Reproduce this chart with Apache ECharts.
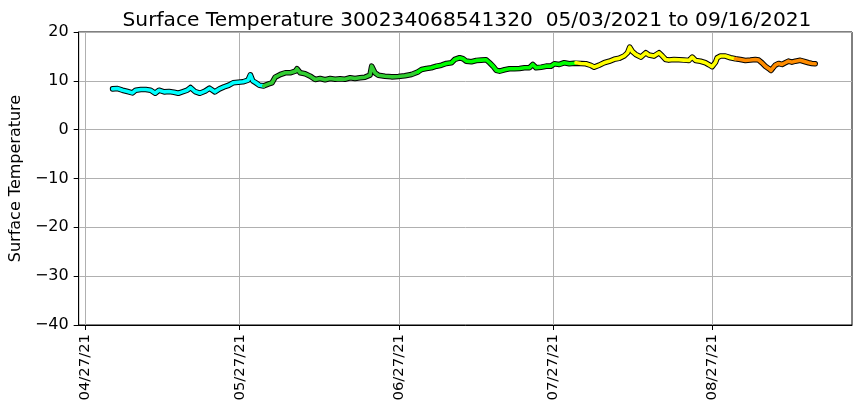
<!DOCTYPE html>
<html>
<head>
<meta charset="utf-8">
<script src="https://cdn.jsdelivr.net/npm/echarts@6/dist/echarts.min.js"></script>
<style>html,body{margin:0;padding:0;background:#fff}#c{width:860px;height:408px}</style>
</head>
<body>
<div id="c"></div>
<script>
const chartTitle = 'Surface Temperature 300234068541320  05/03/2021 to 09/16/2021';
const yName = 'Surface Temperature';
const xTicks = ['2021-04-27', '2021-05-27', '2021-06-27', '2021-07-27', '2021-08-27'];
const xRange = ['2021-04-25 15:24', '2021-09-23 06:00'];
const yRange = [-40, 20];
const yStep = 10;

const times = [
'2021-05-02 06:00','2021-05-03 05:00','2021-05-04 04:00','2021-05-05 04:00','2021-05-06 03:00','2021-05-06 18:00',
'2021-05-07 18:00','2021-05-08 17:00','2021-05-09 16:00','2021-05-10 13:00','2021-05-11 07:00','2021-05-12 07:00',
'2021-05-13 06:00','2021-05-14 05:00','2021-05-15 01:00','2021-05-15 20:00','2021-05-16 19:00','2021-05-17 10:00',
'2021-05-18 07:00','2021-05-19 06:00','2021-05-20 06:00','2021-05-21 03:00','2021-05-22 04:00','2021-05-23 02:00',
'2021-05-23 23:00','2021-05-24 21:00','2021-05-25 17:00','2021-05-26 17:00','2021-05-27 16:00','2021-05-28 15:00',
'2021-05-29 02:00','2021-05-29 13:00','2021-05-30 04:00','2021-05-30 20:00','2021-05-31 16:00','2021-06-01 16:00',
'2021-06-02 07:00','2021-06-02 22:00','2021-06-03 22:00','2021-06-04 21:00','2021-06-05 20:00','2021-06-06 20:00',
'2021-06-07 04:00','2021-06-07 19:00','2021-06-08 18:00','2021-06-09 18:00','2021-06-10 17:00','2021-06-11 16:00',
'2021-06-12 15:00','2021-06-13 15:00','2021-06-14 14:00','2021-06-15 13:00','2021-06-16 12:00','2021-06-17 12:00',
'2021-06-18 11:00','2021-06-19 10:00','2021-06-20 10:00','2021-06-21 09:00','2021-06-21 17:00','2021-06-22 01:00',
'2021-06-22 08:00','2021-06-23 00:00','2021-06-24 07:00','2021-06-25 14:00','2021-06-26 21:00','2021-06-28 04:00',
'2021-06-29 11:00','2021-06-30 18:00','2021-07-01 10:00','2021-07-02 09:00','2021-07-03 08:00','2021-07-04 08:00',
'2021-07-05 07:00','2021-07-06 06:00','2021-07-07 06:00','2021-07-07 21:00','2021-07-08 20:00','2021-07-09 12:00',
'2021-07-10 03:00','2021-07-11 03:00','2021-07-12 02:00','2021-07-13 01:00','2021-07-14 00:00','2021-07-14 16:00',
'2021-07-15 08:00','2021-07-15 23:00','2021-07-16 15:00','2021-07-17 14:00','2021-07-18 13:00','2021-07-19 12:00',
'2021-07-20 12:00','2021-07-21 11:00','2021-07-22 10:00','2021-07-23 02:00','2021-07-23 17:00','2021-07-24 17:00',
'2021-07-25 16:00','2021-07-26 15:00','2021-07-27 07:00','2021-07-28 06:00','2021-07-29 05:00','2021-07-30 05:00',
'2021-07-31 04:00','2021-07-31 12:00','2021-08-01 11:00','2021-08-02 10:00','2021-08-03 10:00','2021-08-04 01:00',
'2021-08-05 00:00','2021-08-05 23:00','2021-08-06 23:00','2021-08-07 22:00','2021-08-08 21:00','2021-08-09 21:00',
'2021-08-10 13:00','2021-08-10 23:00','2021-08-11 12:00','2021-08-12 03:00','2021-08-13 03:00','2021-08-14 02:00',
'2021-08-14 17:00','2021-08-15 16:00','2021-08-16 16:00','2021-08-17 08:00','2021-08-17 23:00','2021-08-18 14:00',
'2021-08-19 14:00','2021-08-20 13:00','2021-08-21 12:00','2021-08-22 12:00','2021-08-23 03:00','2021-08-23 19:00',
'2021-08-24 18:00','2021-08-25 17:00','2021-08-26 09:00','2021-08-27 00:00','2021-08-27 08:00','2021-08-27 16:00',
'2021-08-28 00:00','2021-08-28 15:00','2021-08-29 14:00','2021-08-30 14:00','2021-08-31 13:00','2021-09-01 12:00',
'2021-09-02 12:00','2021-09-03 11:00','2021-09-04 10:00','2021-09-05 02:00','2021-09-05 17:00','2021-09-06 09:00',
'2021-09-07 00:00','2021-09-07 11:00','2021-09-07 21:00','2021-09-08 07:00','2021-09-08 23:00','2021-09-09 15:00',
'2021-09-10 06:00','2021-09-10 21:00','2021-09-11 13:00','2021-09-12 05:00','2021-09-13 04:00','2021-09-14 03:00',
'2021-09-14 19:00','2021-09-15 10:00','2021-09-16 02:00'
];
const temps = [
8.36,8.42,8.08,7.81,7.53,8.08,
8.22,8.22,8.08,7.46,8.08,7.74,
7.81,7.67,7.46,7.74,8.08,8.63,
7.81,7.46,7.88,8.49,7.74,8.36,
8.77,9.10,9.59,9.72,9.80,10.13,
11.23,10.00,9.59,9.10,8.97,9.38,
9.59,10.75,11.30,11.64,11.64,11.98,
12.47,11.64,11.44,10.95,10.27,10.48,
10.21,10.48,10.34,10.41,10.34,10.62,
10.48,10.62,10.75,11.16,13.00,12.68,
11.64,11.16,10.95,10.82,10.89,11.03,
11.30,11.85,12.33,12.53,12.68,13.01,
13.21,13.56,13.70,14.38,14.73,14.52,
14.03,13.91,14.18,14.24,14.32,13.70,
13.01,12.18,11.98,12.27,12.47,12.47,
12.53,12.68,12.68,13.36,12.68,12.80,
13.01,13.01,13.50,13.36,13.70,13.50,
13.60,13.70,13.56,13.50,13.15,12.80,
13.20,13.70,14.00,14.40,14.60,15.10,
15.75,16.90,15.96,15.40,14.86,15.75,
15.27,15.07,15.75,15.07,14.38,14.25,
14.38,14.31,14.25,14.18,14.86,14.18,
14.00,13.70,13.30,12.90,13.20,13.80,
14.73,15.07,15.07,14.73,14.52,14.38,
14.18,14.25,14.38,14.25,13.70,13.00,
12.53,12.12,12.68,13.20,13.56,13.36,
13.70,14.03,13.83,14.03,14.20,13.90,
13.70,13.56,13.50
];
const colorBreaks = ['2021-05-31 04:00', '2021-06-30 12:00', '2021-07-31 08:00', '2021-08-31 02:00'];
const segColors = ['#00ffff', '#32cd32', '#00ff00', '#ffff00', '#ff8c00'];

const P = s => echarts.time.parse(s).getTime();
const breakTs = colorBreaks.map(P);
const pts = times.map((t, i) => [P(t), temps[i]]);
const segs = segColors.map(() => []);
pts.forEach(p => {
  let k = 0;
  while (k < breakTs.length && p[0] >= breakTs[k]) k++;
  segs[k].push(p);
});
for (let k = 0; k < segs.length - 1; k++) {
  if (segs[k + 1].length) segs[k].push(segs[k + 1][0]);
}
const pad2 = n => (n < 10 ? '0' : '') + n;
const fmtDate = v => { const d = new Date(v); return pad2(d.getMonth() + 1) + '/' + pad2(d.getDate()) + '/' + pad2(d.getFullYear() % 100); };
const font = 'DejaVu Sans';
const tickVals = xTicks.map(P);

const series = [{
  type: 'line', data: pts, showSymbol: false, symbol: 'none', silent: true, z: 2,
  lineStyle: { color: '#000', width: 5.6, cap: 'round', join: 'round' }
}].concat(segs.map((s, k) => ({
  type: 'line', data: s, showSymbol: false, symbol: 'none', silent: true, z: 3,
  lineStyle: { color: segColors[k], width: 3.6, cap: 'round', join: 'round' }
})));

const chart = echarts.init(document.getElementById('c'), null, { renderer: 'canvas' });
chart.setOption({
  animation: false,
  backgroundColor: '#fff',
  title: {
    text: chartTitle, left: 462, top: 6, textAlign: 'center',
    textStyle: { fontFamily: font, fontSize: 20.2, fontWeight: 'normal', color: '#000' }
  },
  grid: { left: 76, right: 8, top: 32, bottom: 83, show: true, borderColor: '#000', borderWidth: 1, backgroundColor: 'transparent' },
  xAxis: {
    type: 'value', min: P(xRange[0]), max: P(xRange[1]),
    axisLine: { show: true, onZero: false, lineStyle: { color: '#000', width: 1 } },
    axisTick: { show: true, length: 5, lineStyle: { color: '#000' }, customValues: tickVals },
    axisLabel: { rotate: 90, margin: 9, fontFamily: font, fontSize: 14.8, color: '#000', customValues: tickVals, formatter: v => fmtDate(v) },
    splitLine: { show: true, lineStyle: { color: '#b0b0b0', width: 1 } }
  },
  yAxis: {
    type: 'value', min: yRange[0], max: yRange[1], interval: yStep,
    name: yName, nameLocation: 'middle', nameGap: 52, nameRotate: 90,
    nameTextStyle: { fontFamily: font, fontSize: 16, color: '#000' },
    axisLine: { show: true, onZero: false, lineStyle: { color: '#000', width: 1 } },
    axisTick: { show: true, length: 5, lineStyle: { color: '#000' } },
    axisLabel: { margin: 10, fontFamily: font, fontSize: 16, color: '#000', formatter: v => (v < 0 ? '\u2212' + Math.abs(v) : '' + v) },
    splitLine: { show: true, lineStyle: { color: '#b0b0b0', width: 1 } }
  },
  series: series
});
</script>
</body>
</html>
